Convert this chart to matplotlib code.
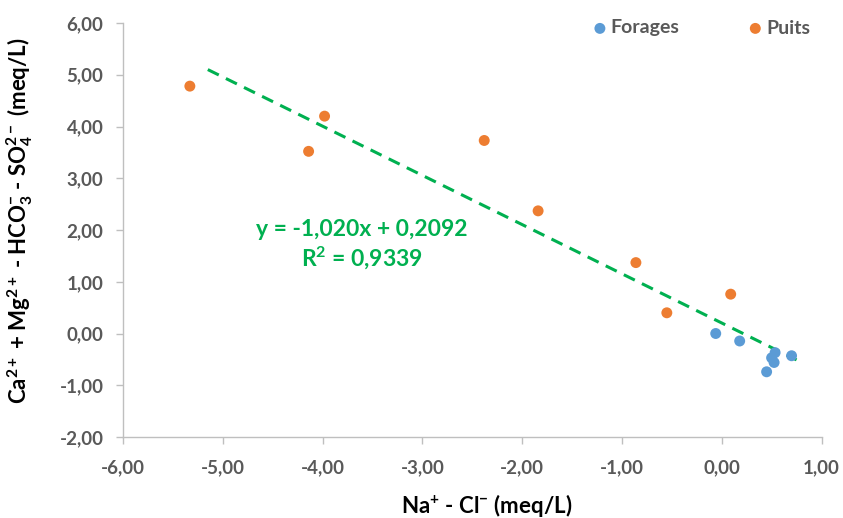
import matplotlib
matplotlib.use("Agg")
import matplotlib.pyplot as plt
import numpy as np
from matplotlib.ticker import FuncFormatter, MultipleLocator

# ---- data ----
forages_x = [-0.06, 0.18, 0.535, 0.50, 0.525, 0.45, 0.70]
forages_y = [0.00, -0.145, -0.37, -0.47, -0.56, -0.74, -0.43]
puits_x = [-5.33, -3.98, -4.14, -2.38, -1.84, -0.86, 0.09, -0.55]
puits_y = [4.78, 4.20, 3.52, 3.73, 2.37, 1.37, 0.76, 0.40]
trend_range = [-5.15, 0.75]
equation_text = "y = -1,020x + 0,2092\nR$^2$ = 0,9339"
series_names = ["Forages", "Puits"]
xlabel = r"Na$^{+}$ - Cl$^{-}$ (meq/L)"
ylabel = r"Ca$^{2+}$ + Mg$^{2+}$ - HCO$_{3}^{-}$ - SO$_{4}^{2-}$ (meq/L)"

plt.rcParams['font.family'] = 'Lato'
plt.rcParams['font.weight'] = 'bold'
plt.rcParams['mathtext.fontset'] = 'custom'
plt.rcParams['mathtext.rm'] = 'Lato:bold'
plt.rcParams['mathtext.it'] = 'Lato:bold'
plt.rcParams['mathtext.bf'] = 'Lato:bold'
plt.rcParams['mathtext.sf'] = 'Lato:bold'
plt.rcParams['mathtext.default'] = 'rm'

blue = '#5B9BD5'
orange = '#ED7D31'
green = '#00B050'
grey_txt = '#595959'
axis_col = '#BFBFBF'

fig = plt.figure(figsize=(8.43, 5.18), dpi=100)
ax = fig.add_axes([123/843, 1-437/518, (821.5-123)/843, (437-23)/518])

# trend line from least-squares fit of all points
all_x = np.array(forages_x + puits_x)
all_y = np.array(forages_y + puits_y)
slope, intercept = np.polyfit(all_x, all_y, 1)
tx = np.array(trend_range)
ax.plot(tx, slope*tx + intercept, color=green, lw=2.2, dashes=(4, 2.6), zorder=3)

ax.scatter(forages_x, forages_y, s=62, color=blue, zorder=4, label=series_names[0], edgecolors='none')
ax.scatter(puits_x, puits_y, s=62, color=orange, zorder=4, label=series_names[1], edgecolors='none')

ax.set_xlim(-6, 1)
ax.set_ylim(-2, 6)
ax.xaxis.set_major_locator(MultipleLocator(1))
ax.yaxis.set_major_locator(MultipleLocator(1))
fmt = FuncFormatter(lambda v, p: f"{v:.2f}".replace('.', ',').replace('-0,00', '0,00'))
ax.xaxis.set_major_formatter(fmt)
ax.yaxis.set_major_formatter(fmt)

for s in ['top', 'right']:
    ax.spines[s].set_visible(False)
for s in ['left', 'bottom']:
    ax.spines[s].set_color(axis_col)
    ax.spines[s].set_linewidth(1)
ax.tick_params(axis='both', direction='out', length=5, width=1, color=axis_col,
               labelsize=13.5, labelcolor=grey_txt)
ax.tick_params(axis='y', pad=9)
ax.tick_params(axis='x', pad=11)
for lab in ax.get_xticklabels() + ax.get_yticklabels():
    lab.set_fontweight('bold')

ax.set_xlabel(xlabel, fontsize=16, fontweight='bold', color='black', va='top')
ax.xaxis.set_label_coords(0.521, -0.133)
ax.set_ylabel(ylabel, fontsize=16, fontweight='bold', color='black')
ax.yaxis.set_label_coords(-0.126, 0.522)

fig.text(362/843, 1-245/518, equation_text, fontsize=16.5, fontweight='bold',
         color=green, ha='center', va='center', linespacing=1.2)

leg = fig.legend(loc='center right', bbox_to_anchor=(810/843, 1-28/518), ncol=2,
                 frameon=False, borderpad=0, borderaxespad=0, handlelength=0.8,
                 handletextpad=0.15, columnspacing=3.5, markerscale=1.0,
                 prop={'family': 'Lato', 'weight': 'bold', 'size': 14})
for t in leg.get_texts():
    t.set_color(grey_txt)

fig.savefig('out.png', dpi=100)
